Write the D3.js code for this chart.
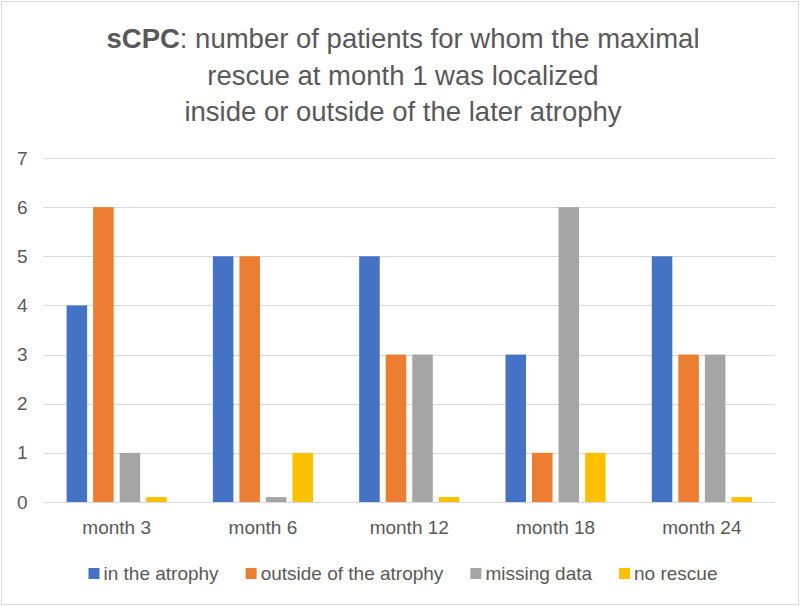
<!DOCTYPE html>
<html>
<head>
<meta charset="utf-8">
<script src="https://cdn.jsdelivr.net/npm/d3@7"></script>
<style>
  body { margin: 0; background: #fff; }
  text { font-family: "Liberation Sans", Arial, sans-serif; fill: #595959; }
</style>
</head>
<body>
<div id="chart"></div>
<script>
// data
const months = ["month 3", "month 6", "month 12", "month 18", "month 24"];
const seriesNames = ["in the atrophy", "outside of the atrophy", "missing data", "no rescue"];
const inAtrophy = [4, 5, 5, 3, 5];
const outsideAtrophy = [6, 5, 3, 1, 3];
const missingData = [1, 0.1, 3, 6, 3];
const noRescue = [0.1, 1, 0.1, 1, 0.1];
const yTicks = [0, 1, 2, 3, 4, 5, 6, 7];
const titleLines = [
  [{ t: "sCPC", b: true }, { t: ": number of patients for whom the maximal" }],
  [{ t: "rescue at month 1 was localized" }],
  [{ t: "inside or outside of the later atrophy" }],
];

const colors = ["#4472C4", "#ED7D31", "#A5A5A5", "#FFC000"];
const values = [inAtrophy, outsideAtrophy, missingData, noRescue];

const width = 800, height = 606;
const margin = { left: 43.5, right: 25, top: 158, bottom: 104 };

const svg = d3.select("#chart").append("svg")
  .attr("width", width)
  .attr("height", height);

// outer frame
svg.append("rect")
  .attr("x", 1.5).attr("y", 1.5)
  .attr("width", width - 3).attr("height", height - 3)
  .attr("fill", "#fff").attr("stroke", "#D9D9D9").attr("stroke-width", 1);

// title
const title = svg.append("text")
  .attr("text-anchor", "middle")
  .style("font-size", "27.5px");
titleLines.forEach((line, i) => {
  line.forEach((part, j) => {
    const ts = title.append("tspan").text(part.t);
    if (j === 0) ts.attr("x", 403).attr("y", 48 + i * 36.5);
    if (part.b) ts.attr("font-weight", "bold");
  });
});

const innerW = width - margin.left - margin.right;
const innerH = height - margin.top - margin.bottom;
const g = svg.append("g").attr("transform", `translate(${margin.left},${margin.top})`);

const x0 = d3.scaleBand().domain(months).range([0, innerW]);
const x1 = d3.scaleBand().domain(seriesNames).range([0, x0.bandwidth()])
  .paddingInner(0.226).paddingOuter(0.87);
const y = d3.scaleLinear().domain([0, 7]).range([innerH, 0]);

// gridlines
g.append("g").selectAll("line")
  .data(yTicks)
  .join("line")
  .attr("x1", 0).attr("x2", innerW)
  .attr("y1", d => Math.round(y(d)) + 0.5).attr("y2", d => Math.round(y(d)) + 0.5)
  .attr("stroke", "#D9D9D9").attr("stroke-width", 1);

// y axis labels
const yAxis = g.append("g")
  .call(d3.axisLeft(y).tickValues(yTicks).tickSize(0).tickPadding(16).tickFormat(d3.format("d")));
yAxis.select(".domain").remove();
yAxis.selectAll("text").style("font-size", "19px").attr("fill", "#595959")
  .attr("font-family", null);

// bars
const groups = g.append("g").selectAll("g")
  .data(months)
  .join("g")
  .attr("transform", d => `translate(${x0(d)},0)`);
groups.selectAll("rect")
  .data((m, mi) => seriesNames.map((s, si) => ({ s, si, v: values[si][mi] })))
  .join("rect")
  .attr("x", d => x1(d.s))
  .attr("width", x1.bandwidth())
  .attr("y", d => y(d.v))
  .attr("height", d => y(0) - y(d.v))
  .attr("fill", d => colors[d.si]);

// x axis labels
const xAxis = g.append("g")
  .attr("transform", `translate(0,${innerH})`)
  .call(d3.axisBottom(x0).tickSize(0).tickPadding(19));
xAxis.select(".domain").remove();
xAxis.selectAll("text").style("font-size", "19px").attr("fill", "#595959")
  .attr("font-family", null);

// legend
const legend = svg.append("g");
const items = legend.selectAll("g")
  .data(seriesNames)
  .join("g");
items.append("rect")
  .attr("width", 11).attr("height", 11)
  .attr("y", -12)
  .attr("fill", (d, i) => colors[i]);
items.append("text")
  .attr("x", 15)
  .style("font-size", "19px")
  .text(d => d);
const gap = 27;
let pos = 0;
const offsets = [];
items.each(function () {
  offsets.push(pos);
  const w = d3.select(this).select("text").node().getComputedTextLength();
  pos += 15 + w + gap;
});
const total = pos - gap;
items.attr("transform", (d, i) => `translate(${offsets[i]},0)`);
legend.attr("transform", `translate(${403 - total / 2},580)`);
</script>
</body>
</html>
